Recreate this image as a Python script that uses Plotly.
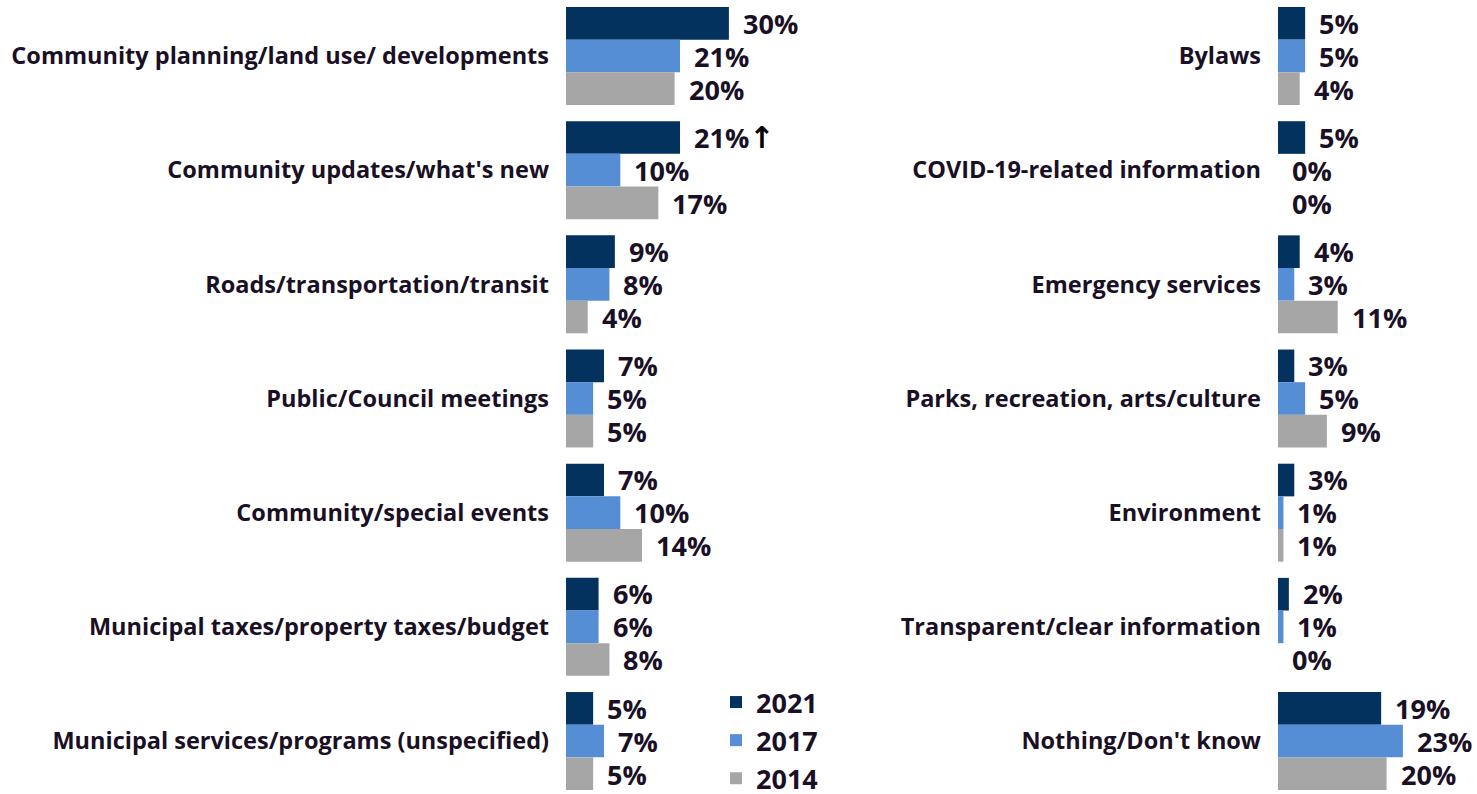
import plotly.graph_objects as go

years = ["2021", "2017", "2014"]
colors = ["#03325f", "#558ed5", "#a6a6a6"]

left_cats = ["Community planning/land use/ developments", "Community updates/what's new",
             "Roads/transportation/transit", "Public/Council meetings",
             "Community/special events", "Municipal taxes/property taxes/budget",
             "Municipal services/programs (unspecified)"]
left_2021 = [30, 21, 9, 7, 7, 6, 5]
left_2017 = [21, 10, 8, 5, 10, 6, 7]
left_2014 = [20, 17, 4, 5, 14, 8, 5]
left_flag_2021 = ["", "\u2191", "", "", "", "", ""]

right_cats = ["Bylaws", "COVID-19-related information", "Emergency services",
              "Parks, recreation, arts/culture", "Environment",
              "Transparent/clear information", "Nothing/Don't know"]
right_2021 = [5, 5, 4, 3, 3, 2, 19]
right_2017 = [5, 0, 3, 5, 1, 1, 23]
right_2014 = [4, 0, 11, 9, 1, 0, 20]

FONT = "Open Sans"
TXT = "#1a1026"
W, H = 1477, 794
PX_PER_PCT = 5.43
L0, L1 = 566, 900
R0, R1 = 1278, 1477

fig = go.Figure()
left_vals = [left_2021, left_2017, left_2014]
right_vals = [right_2021, right_2017, right_2014]
for i, yr in enumerate(years):
    fig.add_trace(go.Bar(x=left_vals[i], y=left_cats, orientation="h", name=yr,
                         marker=dict(color=colors[i], line=dict(width=0)),
                         xaxis="x", yaxis="y", legendgroup=yr, showlegend=True))
    fig.add_trace(go.Bar(x=right_vals[i], y=right_cats, orientation="h", name=yr,
                         marker=dict(color=colors[i], line=dict(width=0)),
                         xaxis="x2", yaxis="y2", legendgroup=yr, showlegend=False))

# value labels
shifts = [33, 0, -33]
VAL_FONT = dict(family=FONT, size=27, color=TXT, weight=700)
anns = []
for i in range(3):
    for j, c in enumerate(left_cats):
        t = f"{left_vals[i][j]}%"
        if i == 0 and left_flag_2021[j]:
            t += ("<span style='font-family:DejaVu Sans;font-size:30px;"
                  "color:#000000'>" + left_flag_2021[j] + "</span>")
        anns.append(dict(x=left_vals[i][j], y=c, xref="x", yref="y", text=t,
                         showarrow=False, xanchor="left", yanchor="middle",
                         xshift=12, yshift=shifts[i], font=VAL_FONT))
    for j, c in enumerate(right_cats):
        anns.append(dict(x=right_vals[i][j], y=c, xref="x2", yref="y2",
                         text=f"{right_vals[i][j]}%",
                         showarrow=False, xanchor="left", yanchor="middle",
                         xshift=12, yshift=shifts[i], font=VAL_FONT))

yrange = [6.464, -0.4905]
LBL_FONT = dict(family=FONT, size=23.5, color=TXT, weight=700)
fig.update_layout(
    width=W, height=H, margin=dict(l=0, r=0, t=0, b=0, autoexpand=False),
    paper_bgcolor="white", plot_bgcolor="white",
    barmode="group", bargap=0.142, bargroupgap=0,
    font=dict(family=FONT, size=21, color=TXT, weight=700),
    xaxis=dict(domain=[L0 / W, L1 / W], range=[0, (L1 - L0) / PX_PER_PCT],
               visible=False, anchor="y"),
    xaxis2=dict(domain=[R0 / W, R1 / W], range=[0, (R1 - R0) / PX_PER_PCT],
                visible=False, anchor="y2"),
    yaxis=dict(anchor="x", range=yrange, showgrid=False, zeroline=False,
               showline=False, ticks="", ticklabelstandoff=16, tickfont=LBL_FONT),
    yaxis2=dict(anchor="x2", range=yrange, showgrid=False, zeroline=False,
                showline=False, ticks="", ticklabelstandoff=16, tickfont=LBL_FONT),
    legend=dict(x=716 / W, y=-9 / H, xanchor="left", yanchor="bottom",
                font=dict(family=FONT, size=27, color=TXT, weight=700),
                traceorder="normal", bgcolor="rgba(0,0,0,0)",
                itemwidth=30, tracegroupgap=0),
    annotations=anns,
)
fig.write_html("out.html", config={"displayModeBar": False},
               post_script="document.body.style.margin='0';")
